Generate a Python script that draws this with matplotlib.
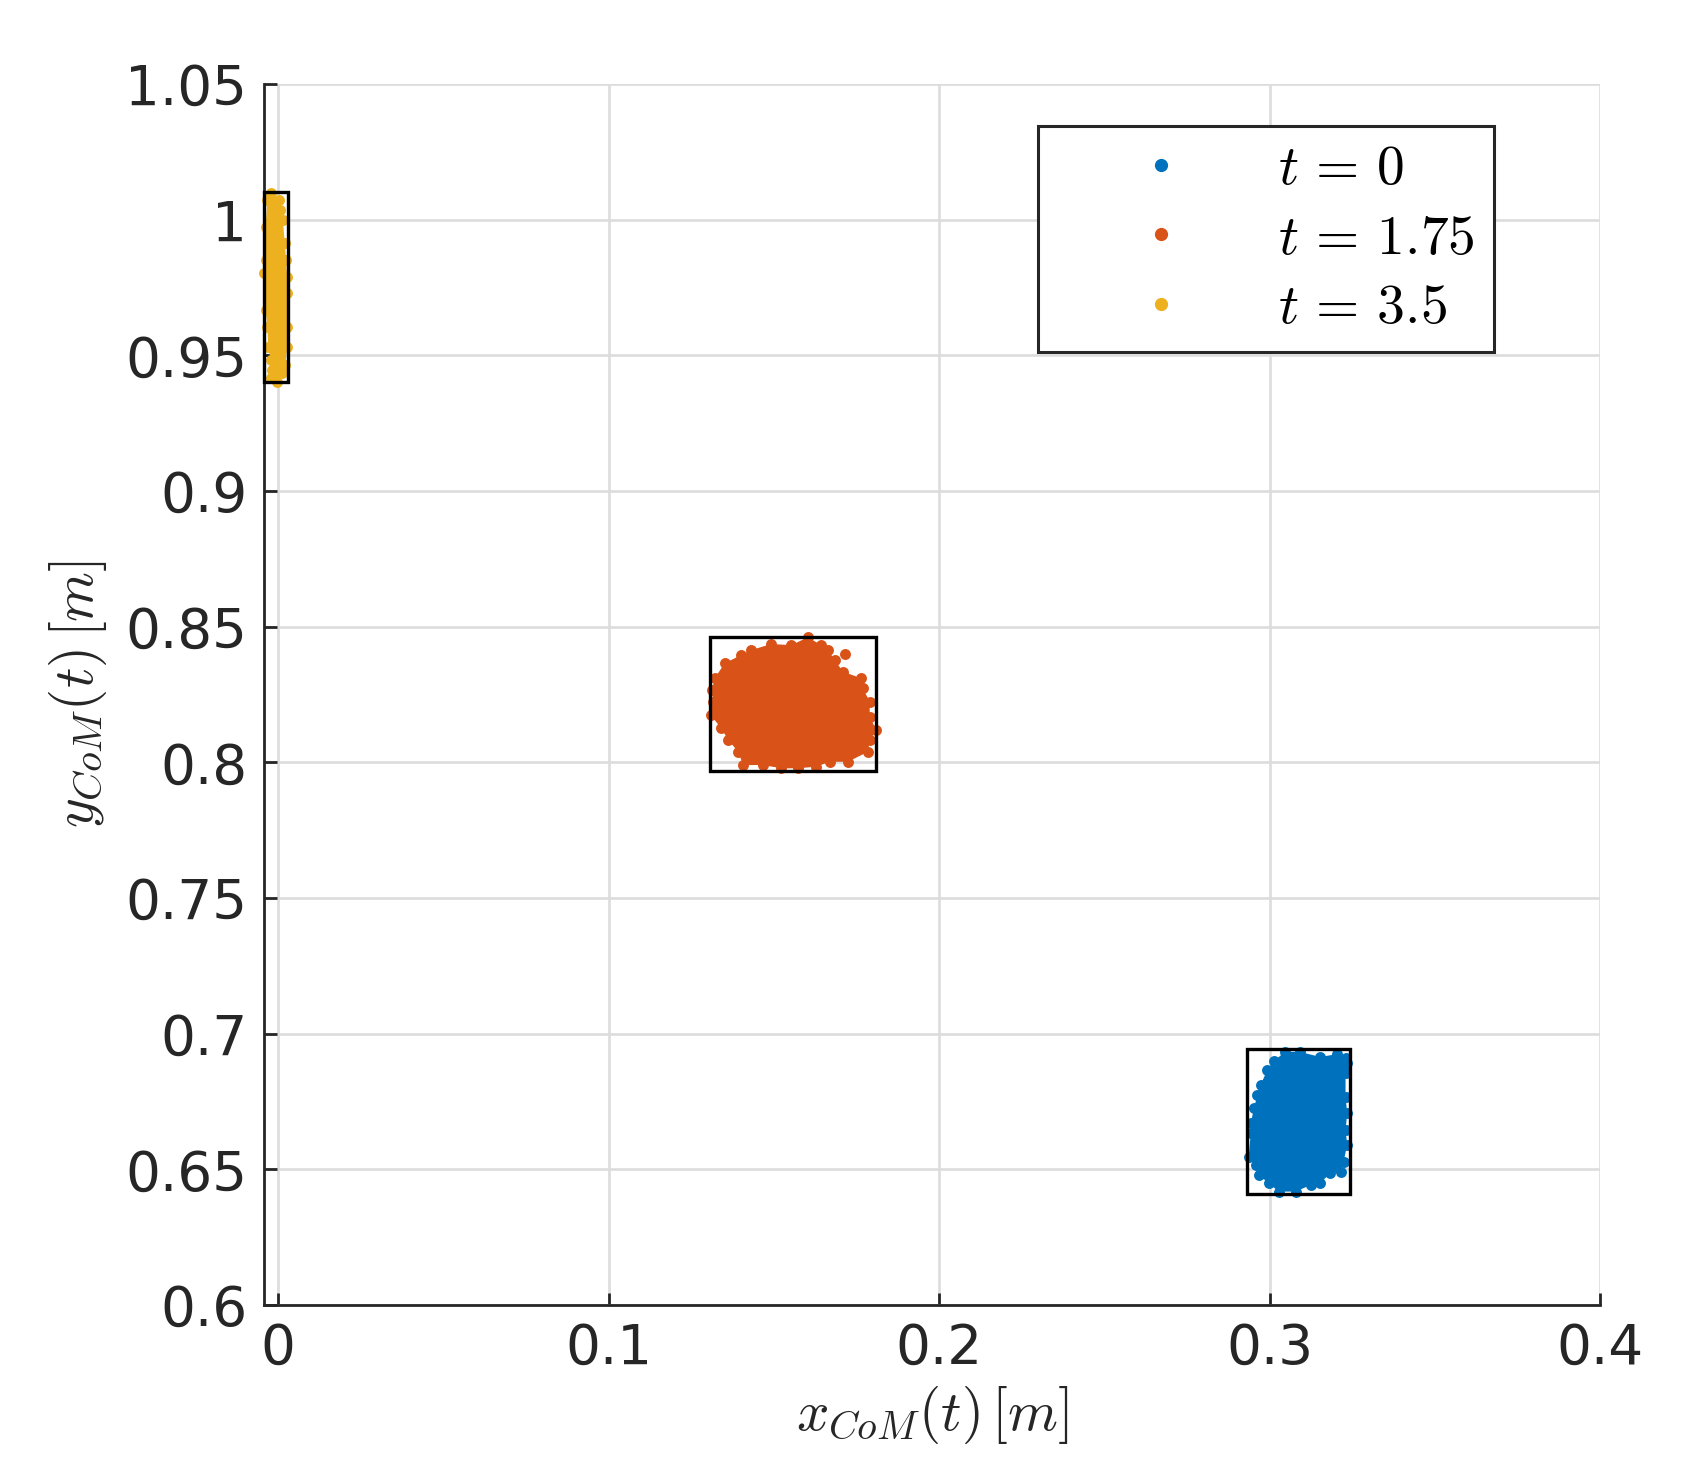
import matplotlib
matplotlib.use("Agg")
import matplotlib.pyplot as plt
from matplotlib.lines import Line2D
from matplotlib.patches import Rectangle
from matplotlib.ticker import FuncFormatter

plt.rcParams['font.family'] = ['DejaVu Sans']
plt.rcParams['mathtext.fontset'] = 'cm'

# ---- data ----
series_labels = [r'$t\,=\,0$', r'$t\,=\,1.75$', r'$t\,=\,3.5$']
series_colors = ['#0072BD', '#D95319', '#EDB120']

# blue cloud (t = 0): boundary points of the sample cloud
blue_x = [0.3048, 0.3091, 0.3154, 0.3205, 0.3230, 0.3233, 0.3230, 0.3230, 0.3235, 0.3230,
          0.3235, 0.3224, 0.3215, 0.3184, 0.3154, 0.3124, 0.3079, 0.3028, 0.2998, 0.2968,
          0.2958, 0.2937, 0.2943, 0.2943, 0.2953, 0.2963, 0.2973, 0.2993, 0.3013]
blue_y = [0.6933, 0.6933, 0.6914, 0.6925, 0.6912, 0.6891, 0.6854, 0.6768, 0.6706, 0.6645,
          0.6590, 0.6528, 0.6491, 0.6485, 0.6451, 0.6442, 0.6418, 0.6418, 0.6448, 0.6479,
          0.6516, 0.6547, 0.6633, 0.6670, 0.6725, 0.6774, 0.6811, 0.6866, 0.6900]

# orange cloud (t = 1.75)
orange_x = [0.1603, 0.1643, 0.1664, 0.1684, 0.1709, 0.1764, 0.1769, 0.1790, 0.1790, 0.1810,
            0.1790, 0.1785, 0.1724, 0.1669, 0.1628, 0.1573, 0.1523, 0.1467, 0.1407, 0.1392,
            0.1362, 0.1341, 0.1309, 0.1316, 0.1313, 0.1321, 0.1351, 0.1402, 0.1432, 0.1492,
            0.1553]
orange_y = [0.8461, 0.8432, 0.8414, 0.8377, 0.8334, 0.8310, 0.8273, 0.8224, 0.8168, 0.8119,
            0.8082, 0.8039, 0.8002, 0.8002, 0.7984, 0.7978, 0.7978, 0.7990, 0.7990, 0.8039,
            0.8082, 0.8125, 0.8174, 0.8224, 0.8267, 0.8310, 0.8365, 0.8396, 0.8414, 0.8436,
            0.8432]
orange_extra_x = [0.1714]
orange_extra_y = [0.8399]

# yellow cloud (t = 3.5)
yellow_x = [-0.0023, 0.0002, 0.0004, 0.0014, 0.0020, 0.0024, 0.0027, 0.0027, 0.0027, 0.0027,
            0.0022, 0.0012, -0.0003, -0.0023, -0.0020, -0.0023, -0.0030, -0.0033, -0.0038,
            -0.0043, -0.0038, -0.0038, -0.0033]
yellow_y = [1.0097, 1.0072, 1.0036, 0.9999, 0.9913, 0.9851, 0.9790, 0.9728, 0.9606, 0.9532,
            0.9464, 0.9434, 0.9403, 0.9415, 0.9446, 0.9483, 0.9532, 0.9606, 0.9667,
            0.9802, 0.9851, 0.9974, 1.0072]

# bounding boxes [x0, x1, y0, y1]
box_blue = [0.2931, 0.3243, 0.6409, 0.6943]
box_orange = [0.1306, 0.1809, 0.7969, 0.8463]
box_yellow = [-0.0043, 0.0031, 0.9400, 1.0103]

x_ticks = [0, 0.1, 0.2, 0.3, 0.4]
y_ticks = [0.6, 0.65, 0.7, 0.75, 0.8, 0.85, 0.9, 0.95, 1.0, 1.05]
x_lim = (-0.0043, 0.4)
y_lim = (0.6, 1.05)

# ---- figure ----
W, H = 1708, 1472
fig = plt.figure(figsize=(W / 100, H / 100), dpi=100)
ax = fig.add_axes([264 / W, 1 - 1305 / H, 1336 / W, 1221 / H])

dark = '#262626'
ms = 62

clouds = [
    (blue_x, blue_y, [], []),
    (orange_x, orange_y, orange_extra_x, orange_extra_y),
    (yellow_x, yellow_y, [], []),
]
for (cx, cy, ex, ey), col in zip(clouds, series_colors):
    ax.fill(cx, cy, color=col, lw=0, zorder=3, clip_on=False)
    ax.scatter(list(cx) + list(ex), list(cy) + list(ey), s=ms, color=col,
               linewidths=0, zorder=3, clip_on=False)

for b in [box_blue, box_orange, box_yellow]:
    ax.add_patch(Rectangle((b[0], b[2]), b[1] - b[0], b[3] - b[2], fill=False,
                           edgecolor='black', lw=2.4, zorder=4, clip_on=False))

ax.set_xlim(*x_lim)
ax.set_ylim(*y_lim)
ax.set_xticks(x_ticks)
ax.set_yticks(y_ticks)
fmt = FuncFormatter(lambda v, p: '%g' % round(v, 4))
ax.xaxis.set_major_formatter(fmt)
ax.yaxis.set_major_formatter(fmt)

ax.grid(True, color='#dcdcdc', lw=1.9)
ax.set_axisbelow(True)
for s in ['top', 'right']:
    ax.spines[s].set_visible(False)
for s in ['left', 'bottom']:
    ax.spines[s].set_color(dark)
    ax.spines[s].set_linewidth(2.0)
ax.tick_params(direction='in', length=9, width=2, colors=dark, labelsize=39.5, pad=12)

ax.set_xlabel(r'$x_{CoM}(t)\,[m]$', fontsize=41, color=dark, labelpad=6)
ax.set_ylabel(r'$y_{CoM}(t)\,[m]$', fontsize=41, color=dark, labelpad=12)

handles = [Line2D([], [], marker='o', ls='none', color=c, markersize=8.5) for c in series_colors]
leg = ax.legend(handles, series_labels, loc='upper left',
                bbox_to_anchor=(0.579, 0.966, 0.342, 0.0), mode='expand',
                fontsize=40, handlelength=3.84, handletextpad=0.18, borderpad=0.3,
                labelspacing=0.28, frameon=True, fancybox=False, borderaxespad=0,
                framealpha=1)
leg.get_frame().set_edgecolor(dark)
leg.get_frame().set_linewidth(2.2)
for t in leg.get_texts():
    t.set_color('black')

fig.savefig('out.png', dpi=100, facecolor='white')
